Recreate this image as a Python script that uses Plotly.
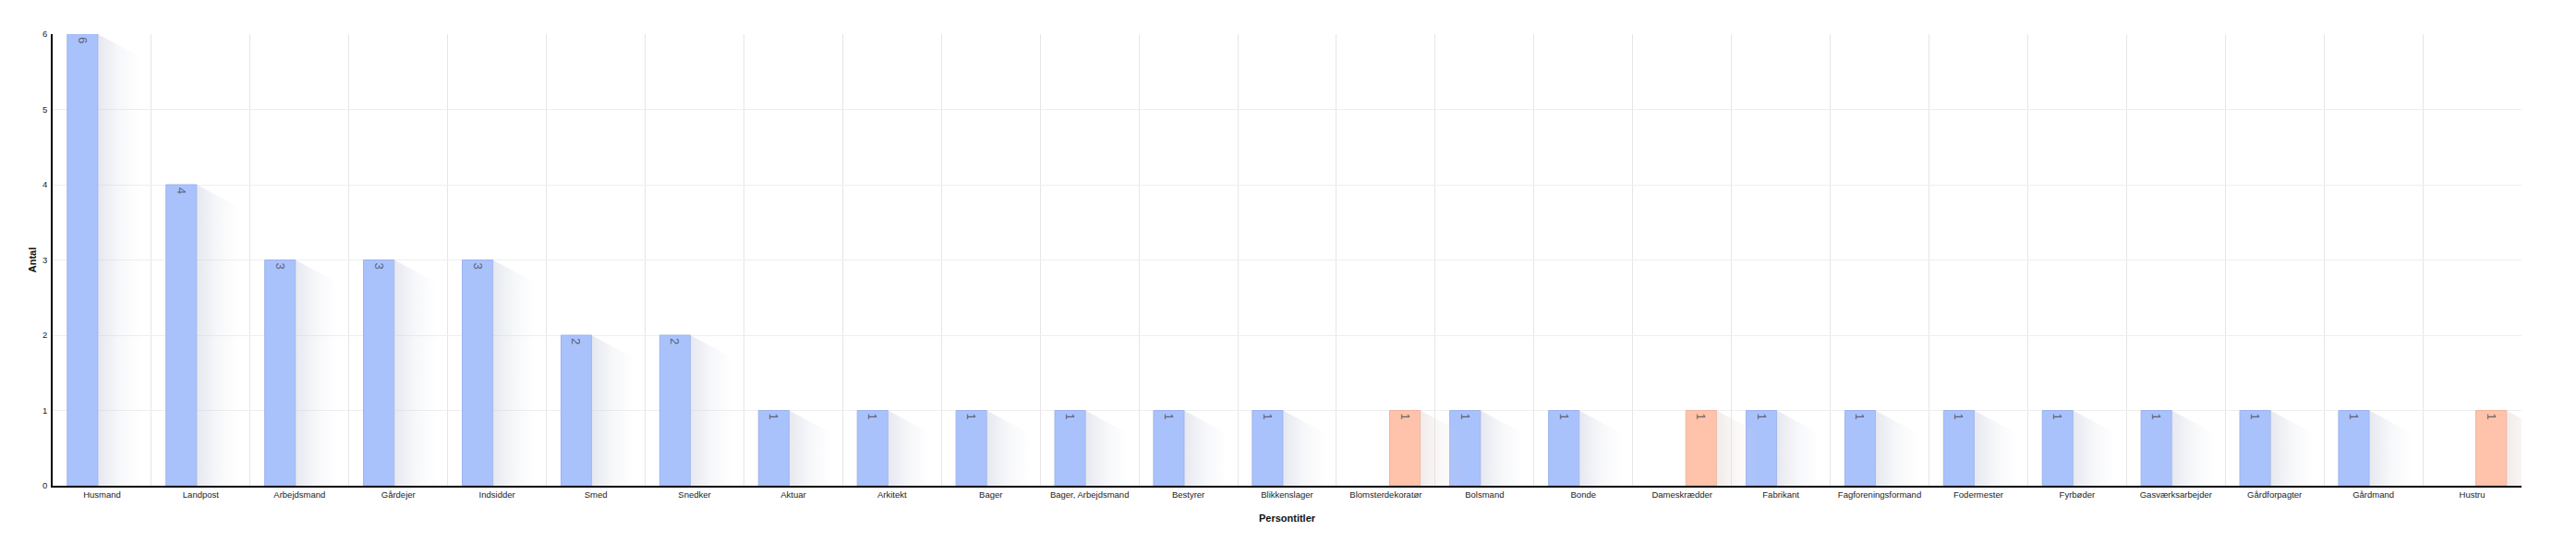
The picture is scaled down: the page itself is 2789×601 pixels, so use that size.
import plotly.graph_objects as go

# ---- data ----
categories = ["Husmand", "Landpost", "Arbejdsmand", "Gårdejer", "Indsidder", "Smed", "Snedker",
              "Aktuar", "Arkitekt", "Bager", "Bager, Arbejdsmand", "Bestyrer", "Blikkenslager",
              "Blomsterdekoratør", "Bolsmand", "Bonde", "Dameskrædder", "Fabrikant",
              "Fagforeningsformand", "Fodermester", "Fyrbøder", "Gasværksarbejder",
              "Gårdforpagter", "Gårdmand", "Hustru"]
mand = [6, 4, 3, 3, 3, 2, 2, 1, 1, 1, 1, 1, 1, None, 1, 1, None, 1, 1, 1, 1, 1, 1, 1, None]
kvinde = [None, None, None, None, None, None, None, None, None, None, None, None, None, 1,
          None, None, 1, None, None, None, None, None, None, None, 1]
y_ticks = [0, 1, 2, 3, 4, 5, 6]

# ---- style constants ----
BAR_W = 0.31
OFF_BLUE = -0.352
OFF_ORANGE = 0.038
SH_DX = 0.43     # shadow extent (category units)
SH_DY = 0.30     # shadow drop (value units)
FONT = "Liberation Sans, Arial, sans-serif"

xs = list(range(len(categories)))
fig = go.Figure()

# shadows (drawn first)
def add_shadows(vals, offset, rgb):
    for i, v in zip(xs, vals):
        if v is None:
            continue
        xr = i + offset + BAR_W
        fig.add_trace(go.Scatter(
            x=[xr, xr + SH_DX, xr + SH_DX, xr],
            y=[v, v - SH_DY, 0, 0],
            mode="lines", line=dict(width=0), fill="toself",
            fillgradient=dict(type="horizontal",
                              colorscale=[[0, f"rgba({rgb},0.45)"],
                                          [0.5, f"rgba({rgb},0.15)"],
                                          [1, f"rgba({rgb},0)"]]),
            hoverinfo="skip", showlegend=False))

add_shadows(mand, OFF_BLUE, "200,205,222")
add_shadows(kvinde, OFF_ORANGE, "225,212,208")

fig.add_trace(go.Bar(
    x=xs, y=mand, width=BAR_W, offset=OFF_BLUE,
    marker=dict(color="#aac2fc", line=dict(color="#9cb2ec", width=1)),
    text=mand, texttemplate="%{y}", textposition="inside", insidetextanchor="end",
    constraintext="none",
    textangle=90, textfont=dict(size=13, color="#5a6178", family=FONT),
    showlegend=False))
fig.add_trace(go.Bar(
    x=xs, y=kvinde, width=BAR_W, offset=OFF_ORANGE,
    marker=dict(color="#ffc2aa", line=dict(color="#eeb29c", width=1)),
    text=kvinde, texttemplate="%{y}", textposition="inside", insidetextanchor="end",
    constraintext="none",
    textangle=90, textfont=dict(size=13, color="#6e625e", family=FONT),
    showlegend=False))

fig.update_layout(
    width=2789, height=601,
    margin=dict(l=57, r=59, t=37, b=75),
    paper_bgcolor="white", plot_bgcolor="white",
    barmode="overlay",
    font=dict(family=FONT, size=10, color="#222"),
    xaxis=dict(
        range=[-0.5, len(categories) - 0.5],
        tickmode="array", tickvals=xs, ticktext=categories,
        tickfont=dict(size=9.5, color="#222"),
        showgrid=False, zeroline=False,
        showline=True, linecolor="#000", linewidth=1.5,
        ticks="",
        minor=dict(tickmode="array", tickvals=[i - 0.5 for i in range(len(categories) + 1)],
                   showgrid=True, gridcolor="#e6e6e6", gridwidth=1, ticks=""),
        title=dict(text="Persontitler", standoff=17,
                   font=dict(size=11, weight="bold", color="#111")),
    ),
    yaxis=dict(
        range=[0, 6], tickmode="array", tickvals=y_ticks,
        tickfont=dict(size=9.5, color="#222"),
        showgrid=True, gridcolor="#eeeeee", gridwidth=1, zeroline=False,
        showline=True, linecolor="#000", linewidth=1.5, ticks="",
        ticklabelstandoff=2,
        title=dict(text="Antal", standoff=4,
                   font=dict(size=11, weight="bold", color="#111")),
    ),
)

fig.write_html("out.html")
